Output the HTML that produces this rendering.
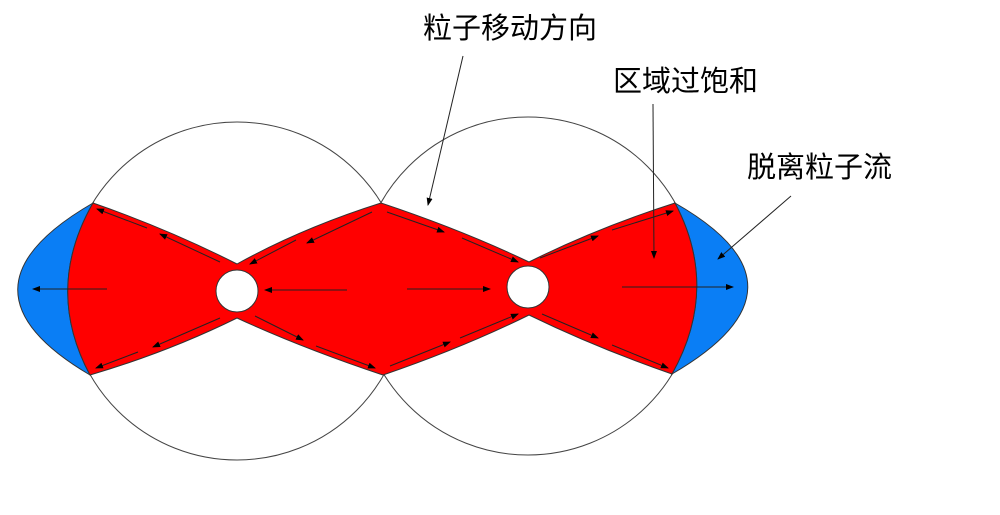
<!DOCTYPE html>
<html><head><meta charset="utf-8"><style>
html,body{margin:0;padding:0;background:#fff;width:1000px;height:515px;overflow:hidden}
svg{display:block}
text{font-family:"Liberation Sans","WenQuanYi Zen Hei","Noto Sans CJK SC",sans-serif;font-size:29px;fill:#000}
</style></head><body>
<svg width="1000" height="515" viewBox="0 0 1000 515" xmlns="http://www.w3.org/2000/svg">
<defs><marker id="a" markerWidth="8" markerHeight="6" refX="7" refY="3" orient="auto" markerUnits="userSpaceOnUse"><path d="M0,0 L8,3 L0,6 z" fill="#000"/></marker></defs>
<circle cx="237" cy="291" r="169" fill="none" stroke="#444" stroke-width="1"/>
<circle cx="528" cy="286" r="169" fill="none" stroke="#444" stroke-width="1"/>
<path d="M93,203 Q-56,289 90,375 Q44,289 93,203 Z" fill="#0a7ef5" stroke="#333" stroke-width="1"/>
<path d="M675,203 Q822,287 672,374 Q720,288 675,203 Z" fill="#0a7ef5" stroke="#333" stroke-width="1"/>
<path d="M93,203 Q168,229 237,264 Q302,228 381,203 Q462,230 529,262 Q597,228 675,203 Q720,288 672,374 Q597,348 529,315 Q462,348 383,375 Q302,348 237,318 Q168,352 90,375 Q44,289 93,203 Z" fill="#ff0000" stroke="#333" stroke-width="1"/>
<ellipse cx="237" cy="291" rx="21" ry="21" fill="#fff" stroke="#333"/>
<ellipse cx="528" cy="287" rx="21" ry="21" fill="#fff" stroke="#333"/>
<g stroke="#222" stroke-width="1" fill="none" marker-end="url(#a)">
<line x1="107" y1="289" x2="33" y2="289"/>
<line x1="347" y1="290" x2="265" y2="290"/>
<line x1="407" y1="289" x2="490" y2="289"/>
<line x1="622" y1="287" x2="733" y2="287"/>
<line x1="147" y1="228" x2="97" y2="209"/>
<line x1="220" y1="262" x2="160" y2="234"/>
<line x1="220" y1="318" x2="153" y2="347"/>
<line x1="138" y1="352" x2="96" y2="368"/>
<line x1="296" y1="240" x2="250" y2="264"/>
<line x1="372" y1="212" x2="307" y2="243"/>
<line x1="387" y1="212" x2="444" y2="232"/>
<line x1="462" y1="238" x2="518" y2="262"/>
<line x1="255" y1="316" x2="303" y2="340"/>
<line x1="316" y1="346" x2="375" y2="368"/>
<line x1="390" y1="366" x2="450" y2="342"/>
<line x1="460" y1="338" x2="518" y2="314"/>
<line x1="540" y1="258" x2="598" y2="236"/>
<line x1="612" y1="230" x2="673" y2="211"/>
<line x1="542" y1="314" x2="598" y2="338"/>
<line x1="612" y1="345" x2="668" y2="368"/>
</g>
<g stroke="#222" stroke-width="1" fill="none" marker-end="url(#a)">
<line x1="463" y1="56" x2="428" y2="205"/>
<line x1="653" y1="104" x2="654" y2="258"/>
<line x1="791" y1="196" x2="718" y2="259"/>
</g>
<text x="423" y="38">粒子移动方向</text>
<text x="613" y="91">区域过饱和</text>
<text x="747" y="177">脱离粒子流</text>
</svg>
</body></html>
